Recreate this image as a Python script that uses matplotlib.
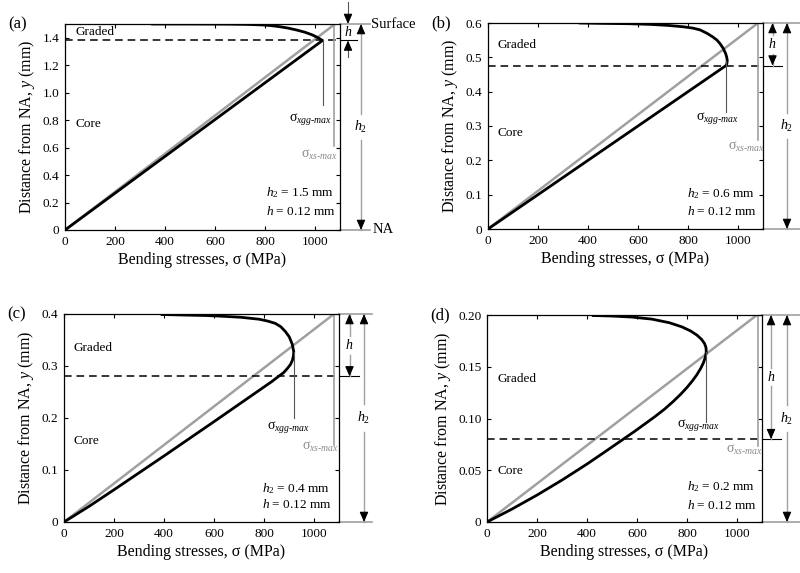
import matplotlib.pyplot as plt
from matplotlib.ticker import FuncFormatter

plt.rcParams['font.family'] = ['Liberation Serif', 'DejaVu Serif']
plt.rcParams['mathtext.fontset'] = 'custom'
plt.rcParams['mathtext.rm'] = 'Liberation Serif'
plt.rcParams['mathtext.it'] = 'Liberation Serif:italic'

GREY = '#a0a0a0'
SIG_SURF = 1080      # stress of the homogeneous beam at the surface (MPa)

# (a) h2 = 1.5 mm
h2_a, yb_a = 1.5, 1.38
core_sig_a = [0, 1030]
core_y_a = [0, 1.38]
grad_sig_a = [1030, 1012, 990, 960, 927, 893, 860, 825, 793, 730, 650, 500, 350]
grad_y_a = [1.38, 1.40, 1.42, 1.44, 1.456, 1.47, 1.48, 1.488, 1.493, 1.497, 1.499, 1.5, 1.5]

# (b) h2 = 0.6 mm
h2_b, yb_b = 0.6, 0.476
core_sig_b = [0, 952]
core_y_b = [0, 0.476]
grad_sig_b = [952, 955, 957, 955, 951, 941, 928, 916, 898, 876, 848, 820, 781, 720,
              648, 560, 448, 368]
grad_y_b = [0.476, 0.48, 0.49, 0.50, 0.51, 0.526, 0.54, 0.55, 0.56, 0.57, 0.58, 0.585,
            0.589, 0.593, 0.596, 0.598, 0.599, 0.6]

# (c) h2 = 0.4 mm
h2_c, yb_c = 0.4, 0.28
core_sig_c = [0, 100, 200, 400, 600, 774, 831]
core_y_c = [0, 0.03, 0.062, 0.127, 0.193, 0.251, 0.27]
grad_sig_c = [831, 858, 878, 894, 906, 914, 918, 919, 913, 901, 886, 867, 845, 814,
              780, 707, 620, 573, 480, 392]
grad_y_c = [0.27, 0.28, 0.287, 0.2956, 0.303, 0.3115, 0.32, 0.3275, 0.342, 0.356,
            0.366, 0.3756, 0.382, 0.3865, 0.39, 0.3937, 0.396, 0.397, 0.398, 0.399]

# (d) h2 = 0.2 mm
h2_d, yb_d = 0.2, 0.08
core_sig_d = [0, 100, 200, 300, 400, 470, 545]
core_y_d = [0, 0.0125, 0.026, 0.0405, 0.056, 0.0675, 0.08]
grad_sig_d = [545, 590, 630, 670, 710, 745, 775, 800, 822, 840, 855, 866, 873, 877,
              876, 870, 858, 840, 815, 780, 730, 660, 580, 500, 425]
grad_y_d = [0.08, 0.0875, 0.0945, 0.1015, 0.109, 0.1165, 0.1235, 0.13, 0.1365, 0.1425,
            0.1485, 0.154, 0.159, 0.164, 0.1685, 0.1725, 0.1765, 0.1805, 0.1845,
            0.1885, 0.1925, 0.196, 0.198, 0.199, 0.1995]

yticks_a = [0, 0.2, 0.4, 0.6, 0.8, 1.0, 1.2, 1.4]
yticks_b = [0, 0.1, 0.2, 0.3, 0.4, 0.5, 0.6]
yticks_c = [0, 0.1, 0.2, 0.3, 0.4]
yticks_d = [0, 0.05, 0.10, 0.15, 0.20]
xticks = [0, 200, 400, 600, 800, 1000]

# sigma_xgg-max marker (x, lower end, label x, label y) and sigma_xs-max marker
xgg_a, xs_a = (1030, 0.91, 980, 0.81), (1076, 0.61, 1020, 0.55)
xgg_b, xs_b = (952, 0.342, 916, 0.323), (1081, 0.26, 1036, 0.239)
xgg_c, xs_c = (918, 0.20, 896, 0.183), (1081, 0.148, 1028, 0.144)
xgg_d, xs_d = (877, 0.097, 844, 0.094), (1085, 0.073, 1032, 0.0696)

# text positions: Graded, Core, parameter lines
txt_a = (1.44, 0.77, 805, 0.27, 0.138)
txt_b = (0.536, 0.28, 796, 0.102, 0.05)
txt_c = (0.335, 0.156, 791, 0.065, 0.033)
txt_d = (0.138, 0.049, 800, 0.034, 0.0164)


def head(ax, x, y, sign):
    # black arrow head with its tip at (x, y); sign=+1 points up
    ax.annotate('', xy=(x, y), xytext=(0, -sign * 6), textcoords='offset points',
                annotation_clip=False,
                arrowprops=dict(arrowstyle='-|>,head_length=0.6,head_width=0.26',
                                color='k', lw=0.8, shrinkA=0, shrinkB=0,
                                mutation_scale=10))


def vline_gap(ax, x, y0, y1, ymid, gap):
    ax.plot([x, x], [y0, ymid - gap], color=GREY, lw=1.0, clip_on=False)
    ax.plot([x, x], [ymid + gap, y1], color=GREY, lw=1.0, clip_on=False)


def panel(ax, letter, h2, yb, cs, cy, gs, gy, yticks, ndig, xgg, xs, txt,
          xh, xh2, xend, xmid):
    ax.plot([0, SIG_SURF], [0, h2], color=GREY, lw=1.8)
    ax.plot(cs + gs[1:], cy + gy[1:], color='k', lw=2.0, solid_joinstyle='round')
    ax.plot([0, 1100], [yb, yb], color='k', lw=1.1, ls=(0, (5, 3.2)))

    ax.plot([xgg[0], xgg[0]], [gy[gs.index(max(gs))], xgg[1]],
            color='#555555', lw=0.8)
    ax.text(xgg[2], xgg[3], r'σ$_{xgg\text{-}max}$', ha='center', va='center',
            fontsize=10)
    ax.plot([xs[0], xs[0]], [h2, xs[1]], color=GREY, lw=1.2)
    ax.text(xs[2], xs[3], r'σ$_{xs\text{-}max}$', ha='center', va='center',
            fontsize=10, color='#8a8a8a')

    ax.text(40, txt[0], 'Graded', fontsize=9.5, va='center')
    ax.text(40, txt[1], 'Core', fontsize=9.5, va='center')
    ax.text(txt[2], txt[3], r'$h_2$ = %g mm' % h2, fontsize=9.5, va='center')
    ax.text(txt[2], txt[4], r'$h$ = 0.12 mm', fontsize=9.5, va='center')

    # dimension lines on the right
    ax.plot([1100, xend], [h2, h2], color=GREY, lw=1.2, clip_on=False)
    ax.plot([1100, xend], [0, 0], color=GREY, lw=1.2, clip_on=False)
    ax.plot([1100, xmid], [yb, yb], color='k', lw=0.8, clip_on=False)

    vline_gap(ax, xh2, 0, h2, h2 / 2, 0.065 * h2)
    head(ax, xh2, h2, 1)
    head(ax, xh2, 0, -1)
    ax.text(xh2, h2 / 2, r'$h_2$', ha='center', va='center', fontsize=10)

    if xh is not None:
        ymid = (h2 + yb) / 2
        vline_gap(ax, xh, yb, h2, ymid, 0.045 * h2)
        head(ax, xh, h2, 1)
        head(ax, xh, yb, -1)
        ax.text(xh, ymid, r'$h$', ha='center', va='center', fontsize=10)

    ax.set_xlim(0, 1100)
    ax.set_ylim(0, h2)
    ax.set_xticks(xticks)
    ax.set_yticks(yticks)
    ax.yaxis.set_major_formatter(
        FuncFormatter(lambda v, p: '0' if v == 0 else f'{v:.{ndig}f}'))
    ax.tick_params(direction='in', top=True, right=True, length=3, width=0.8,
                   labelsize=9.5, pad=4)
    for s in ax.spines.values():
        s.set_linewidth(0.9)
    ax.set_xlabel('Bending stresses, σ (MPa)', fontsize=11.5, labelpad=3)
    ax.set_ylabel(r'Distance from NA, $y$ (mm)', fontsize=11.5, labelpad=4)
    ax.text(-0.205, 1.0, letter, transform=ax.transAxes, ha='left', va='center',
            fontsize=12)


fig = plt.figure(figsize=(8, 5.73), dpi=100)
W, H = 800, 573
ax_a = fig.add_axes([65 / W, 1 - 230 / H, 275 / W, 206 / H])
ax_b = fig.add_axes([488 / W, 1 - 229 / H, 275 / W, 206 / H])
ax_c = fig.add_axes([64 / W, 1 - 522 / H, 275 / W, 208 / H])
ax_d = fig.add_axes([487 / W, 1 - 522 / H, 275 / W, 207 / H])

panel(ax_a, '(a)', h2_a, yb_a, core_sig_a, core_y_a, grad_sig_a, grad_y_a,
      yticks_a, 1, xgg_a, xs_a, txt_a, None, 1184, 1220, 1168)
panel(ax_b, '(b)', h2_b, yb_b, core_sig_b, core_y_b, grad_sig_b, grad_y_b,
      yticks_b, 1, xgg_b, xs_b, txt_b, 1138, 1196, 1250, 1176)
panel(ax_c, '(c)', h2_c, yb_c, core_sig_c, core_y_c, grad_sig_c, grad_y_c,
      yticks_c, 1, xgg_c, xs_c, txt_c, 1142, 1200, 1233, 1181)
panel(ax_d, '(d)', h2_d, yb_d, core_sig_d, core_y_d, grad_sig_d, grad_y_d,
      yticks_d, 2, xgg_d, xs_d, txt_d, 1136, 1200, 1250, 1176)

# (a): h is small, so the arrows point inwards from outside
ax_a.plot([1132, 1132], [1.66, 1.53], color='#555555', lw=0.8, clip_on=False)
head(ax_a, 1132, 1.5, -1)
ax_a.plot([1132, 1132], [1.26, 1.35], color='#555555', lw=0.8, clip_on=False)
head(ax_a, 1132, 1.38, 1)
ax_a.text(1132, 1.44, r'$h$', ha='center', va='center', fontsize=10)
ax_a.text(1226, 1.5, 'Surface', ha='left', va='center', fontsize=10.5)
ax_a.text(1230, 0, 'NA', ha='left', va='center', fontsize=10.5)

fig.savefig('out.png', dpi=100)
